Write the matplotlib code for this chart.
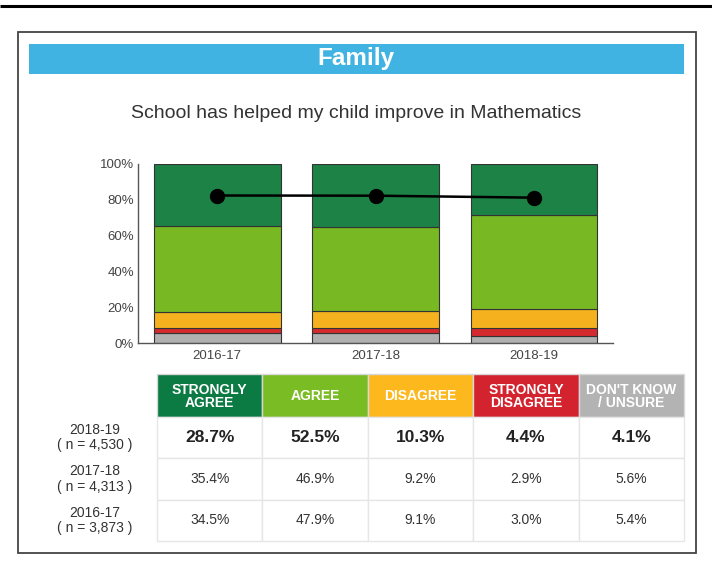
import numpy as np
import matplotlib
matplotlib.use("Agg")
import matplotlib.pyplot as plt
from matplotlib.patches import Rectangle

plt.rcParams['font.family'] = ['Liberation Sans', 'DejaVu Sans']

# data
years = ['2016-17', '2017-18', '2018-19']
n_resp = ['3,873', '4,313', '4,530']
strongly_agree = [34.5, 35.4, 28.7]
agree = [47.9, 46.9, 52.5]
disagree = [9.1, 9.2, 10.3]
strongly_disagree = [3.0, 2.9, 4.4]
unsure = [5.4, 5.6, 4.1]

headers = ['STRONGLY\nAGREE', 'AGREE', 'DISAGREE', 'STRONGLY\nDISAGREE', "DON'T KNOW\n/ UNSURE"]
bar_cols = ['#1c8246', '#77b823', '#f5b21e', '#d42a2f', '#b0b0b0']
head_cols = ['#0b7a43', '#7abc23', '#fdb81e', '#d2232e', '#b3b3b3']

W, H = 712, 582
fig = plt.figure(figsize=(W / 100, H / 100), dpi=100)

# background layer in pixel coords
bg = fig.add_axes([0, 0, 1, 1])
bg.set_xlim(0, W)
bg.set_ylim(H, 0)
bg.axis('off')

bg.plot([0, W], [5.5, 5.5], color='black', lw=2.2, solid_capstyle='butt')
bg.add_patch(Rectangle((18, 32), 678, 521, fill=False, ec='#444444', lw=1.3))
bg.add_patch(Rectangle((29, 44), 655, 30, fc='#41b3e3', ec='none'))
bg.text(356, 59, 'Family', color='white', fontsize=17.5, fontweight='bold', ha='center', va='center')
bg.text(356, 113, 'School has helped my child improve in Mathematics', color='#333333',
        fontsize=14, ha='center', va='center')

# stacked bars
ax = fig.add_axes([138 / W, 1 - 343 / H, (613 - 138) / W, (343 - 164) / H])
ax.patch.set_alpha(0)
x = np.arange(len(years))
stack = [unsure, strongly_disagree, disagree, agree, strongly_agree]
colors = bar_cols[::-1]
bottom = np.zeros(len(years))
for vals, c in zip(stack, colors):
    ax.bar(x, vals, 0.8, bottom=bottom, color=c, edgecolor='#333333', linewidth=0.8, zorder=2)
    bottom += np.array(vals)

total_agree = np.array(strongly_agree) + np.array(agree)
ax.plot(x, total_agree, color='black', lw=1.8, marker='o', markersize=10, zorder=3)

ax.set_xlim(-0.5, 2.5)
ax.set_ylim(0, 100)
ax.set_yticks([0, 20, 40, 60, 80, 100])
ax.set_yticklabels(['0%', '20%', '40%', '60%', '80%', '100%'])
ax.set_xticks(x)
ax.set_xticklabels(years)
ax.tick_params(length=0, labelsize=9.5, labelcolor='#444444')
ax.tick_params(axis='x', pad=5)
ax.tick_params(axis='y', pad=3)
for s in ['top', 'right']:
    ax.spines[s].set_visible(False)
for s in ['left', 'bottom']:
    ax.spines[s].set_color('#555555')
    ax.spines[s].set_linewidth(1)

# table under the chart
col_x = np.linspace(157, 684, 6)
row_y = [374, 417, 458, 500, 541]
for i, h in enumerate(headers):
    bg.add_patch(Rectangle((col_x[i], row_y[0]), col_x[i + 1] - col_x[i], row_y[1] - row_y[0],
                           fc=head_cols[i], ec='#d8d8d8', lw=1))
    bg.text((col_x[i] + col_x[i + 1]) / 2, (row_y[0] + row_y[1]) / 2 + 1, h, color='white',
            fontsize=10, fontweight='bold', ha='center', va='center', linespacing=0.95)

table_rows = list(zip(strongly_agree, agree, disagree, strongly_disagree, unsure))[::-1]
row_years = years[::-1]
row_n = n_resp[::-1]
for r, vals in enumerate(table_rows):
    y0, y1 = row_y[r + 1], row_y[r + 2]
    yc = (y0 + y1) / 2
    for i, v in enumerate(vals):
        bg.add_patch(Rectangle((col_x[i], y0), col_x[i + 1] - col_x[i], y1 - y0,
                               fc='white', ec='#e6e6e6', lw=1))
        if r == 0:
            bg.text((col_x[i] + col_x[i + 1]) / 2, yc, f'{v:.1f}%', fontsize=12.5,
                    fontweight='bold', color='#222222', ha='center', va='center')
        else:
            bg.text((col_x[i] + col_x[i + 1]) / 2, yc, f'{v:.1f}%', fontsize=10,
                    color='#333333', ha='center', va='center')
    bg.text(95, yc, f'{row_years[r]}\n( n = {row_n[r]} )', fontsize=10, color='#333333',
            ha='center', va='center', linespacing=1.15)

fig.savefig('out.png', dpi=100)
